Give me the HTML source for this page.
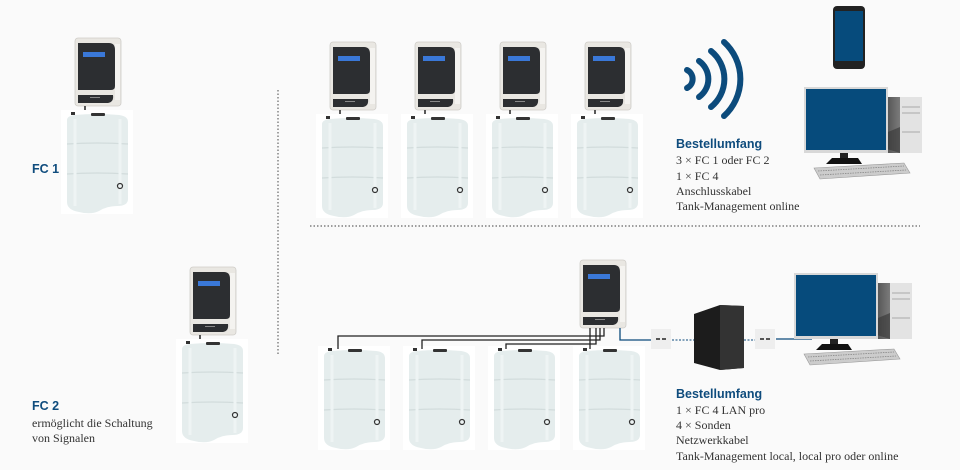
<!DOCTYPE html>
<html><head><meta charset="utf-8"><style>
html,body{margin:0;padding:0;background:#fafafa;}
svg{display:block}
.h{font-family:"Liberation Sans",sans-serif;font-weight:bold;fill:#0f4c7d;font-size:12.5px}
.t{font-family:"Liberation Serif",serif;fill:#333;font-size:12px}
</style></head><body>
<svg width="960" height="470" viewBox="0 0 960 470" xmlns="http://www.w3.org/2000/svg">
<defs>
<linearGradient id="tw" x1="0" x2="1"><stop offset="0" stop-color="#555"/><stop offset="1" stop-color="#bbb"/></linearGradient>
<g id="ctl">
 <rect x="0" y="0" width="46" height="68" rx="3" fill="#e9e7e2" stroke="#cfcdc8" stroke-width="0.8"/>
 <rect x="40" y="6" width="5" height="56" fill="#f4f3f0"/>
 <path d="M3,5 H34 Q40,5 40,12 V48 Q40,52 36,52 H3 Z" fill="#2c2e31"/>
 <rect x="8" y="14" width="22" height="5" fill="#3a78d8"/>
 <path d="M3,57 H38 Q39,64 33,65 H3 Z" fill="#2c2e31"/>
 <rect x="15" y="59" width="10" height="1" fill="#888"/>
</g>
<g id="tank">
 <rect x="-4" y="-4" width="72" height="104" fill="#fff"/>
 <path d="M2,6 Q2,2 10,1 Q32,-1 54,1 Q63,2 63,8 V85 Q63,92 52,92 Q42,92 34,97 Q26,101 14,98 Q2,96 2,88 Z" fill="#e5eded"/>
 <path d="M2,30 Q32,28 63,30 M2,60 Q32,58 63,60" stroke="#d2dcdc" stroke-width="1.2" fill="none"/>
 <path d="M10,5 V92 M55,5 V90" stroke="#eef4f4" stroke-width="3" fill="none"/>
 <rect x="26" y="-1" width="14" height="3" rx="1" fill="#333"/>
 <rect x="6" y="-2" width="4" height="3" fill="#333"/>
 <circle cx="55" cy="72" r="2.5" fill="none" stroke="#333" stroke-width="1.2"/>
</g>
<g id="unit">
 <use href="#ctl" x="2" y="0"/>
 <line x1="12" y1="68" x2="12" y2="74" stroke="#222" stroke-width="1.5"/>
 <use href="#tank" x="-8" y="76"/>
</g>
<g id="pc">
 <rect x="83" y="10" width="35" height="56" fill="url(#tw)"/>
 <rect x="96" y="10" width="22" height="56" fill="#e3e3e3"/>
 <line x1="98" y1="20" x2="116" y2="20" stroke="#aaa"/><line x1="98" y1="26" x2="116" y2="26" stroke="#aaa"/><line x1="98" y1="45" x2="116" y2="45" stroke="#aaa"/>
 <path d="M60,55 L96,66 L96,40 Z" fill="#333" opacity="0.6"/>
 <rect x="0" y="0" width="84" height="66" fill="#d8d8d8"/>
 <rect x="2" y="2" width="80" height="61" fill="#064b7c"/>
 <rect x="36" y="66" width="8" height="6" fill="#222"/>
 <polygon points="22,77 58,77 54,71 28,71" fill="#111"/>
 <polygon points="10,81 100,76 106,86 16,92" fill="#ccc" stroke="#999" stroke-width="0.6"/>
 <path d="M14,84 L100,79 M16,88 L102,83" stroke="#888" stroke-width="0.8" stroke-dasharray="1.5 1"/>
</g>
</defs>

<line x1="278" y1="90" x2="278" y2="355" stroke="#666" stroke-width="1.2" stroke-dasharray="1.5 2"/>
<line x1="310" y1="226" x2="920" y2="226" stroke="#666" stroke-width="1.2" stroke-dasharray="1.5 2"/>

<use href="#unit" x="73" y="38"/>
<text class="h" x="32" y="173">FC 1</text>

<use href="#unit" x="188" y="267"/>
<text class="h" x="32" y="410">FC 2</text>
<text class="t" x="32" y="427">ermöglicht die Schaltung</text>
<text class="t" x="32" y="442">von Signalen</text>

<use href="#unit" x="328" y="42"/>
<use href="#unit" x="413" y="42"/>
<use href="#unit" x="498" y="42"/>
<use href="#unit" x="583" y="42"/>

<g fill="none" stroke="#0c4b7c" stroke-width="6" stroke-linecap="round">
 <path d="M687,70 A10,10 0 0 1 687,88"/>
 <path d="M699,61 A22,22 0 0 1 699,97"/>
 <path d="M711,51 A36,36 0 0 1 711,107"/>
 <path d="M724,42 A50,50 0 0 1 724,116"/>
</g>
<rect x="833" y="6" width="32" height="63" rx="4" fill="#222"/>
<rect x="835" y="11" width="28" height="50" fill="#064b7c"/>
<use href="#pc" x="804" y="87"/>

<text class="h" x="676" y="148">Bestellumfang</text>
<text class="t" x="676" y="164">3 × FC 1 oder FC 2</text>
<text class="t" x="676" y="180">1 × FC 4</text>
<text class="t" x="676" y="195">Anschlusskabel</text>
<text class="t" x="676" y="210">Tank-Management online</text>

<use href="#tank" x="322" y="350"/>
<use href="#tank" x="407" y="350"/>
<use href="#tank" x="492" y="350"/>
<use href="#tank" x="577" y="350"/>
<use href="#ctl" x="580" y="260"/>
<g fill="none" stroke="#222" stroke-width="1.3">
 <path d="M604,328 V336 H338 V349"/>
 <path d="M600,328 V340 H422 V349"/>
 <path d="M596,328 V344 H506 V349"/>
 <path d="M590,328 V349"/>
</g>
<path d="M620,328 V340 H652" fill="none" stroke="#0c4b7c" stroke-width="1.3"/>
<rect x="651" y="329" width="20" height="20" fill="#eee"/>
<rect x="656" y="338" width="4" height="2" fill="#555"/><rect x="662" y="338" width="4" height="2" fill="#555"/>
<line x1="672" y1="340" x2="694" y2="340" stroke="#0c4b7c" stroke-dasharray="2 1.5"/>
<polygon points="694,314 720,305 744,306 744,368 720,370 694,363" fill="#1c1c1c"/>
<polygon points="720,305 744,306 744,368 720,370" fill="#333"/>
<line x1="744" y1="340" x2="755" y2="340" stroke="#0c4b7c" stroke-dasharray="2 1.5"/>
<rect x="755" y="329" width="20" height="20" fill="#eee"/>
<rect x="760" y="338" width="4" height="2" fill="#555"/><rect x="766" y="338" width="4" height="2" fill="#555"/>
<line x1="776" y1="339" x2="812" y2="339" stroke="#0c4b7c" stroke-width="1.3"/>
<use href="#pc" x="794" y="273"/>

<text class="h" x="676" y="398">Bestellumfang</text>
<text class="t" x="676" y="414">1 × FC 4 LAN pro</text>
<text class="t" x="676" y="429">4 × Sonden</text>
<text class="t" x="676" y="444">Netzwerkkabel</text>
<text class="t" x="676" y="460">Tank-Management local, local pro oder online</text>
</svg>
</body></html>
